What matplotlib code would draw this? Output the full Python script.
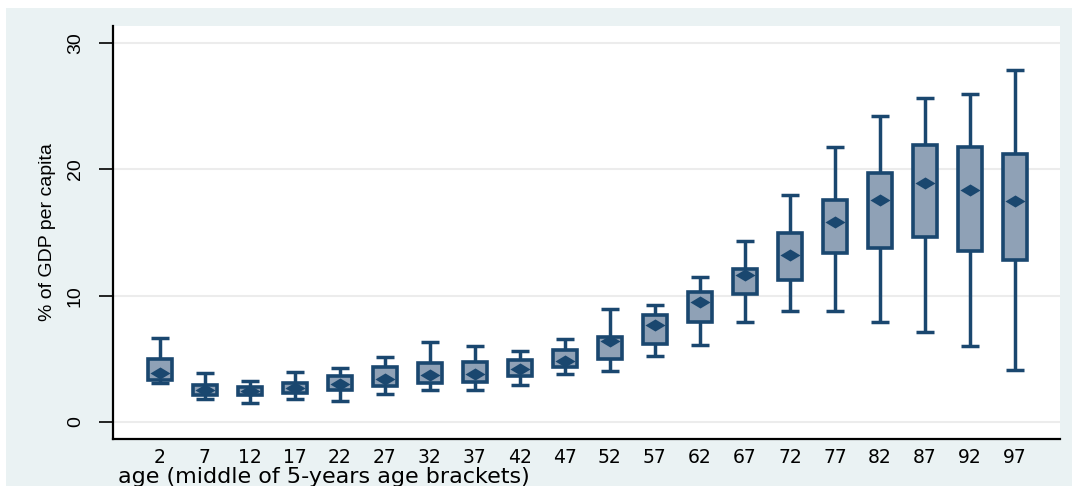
import numpy as np
import matplotlib
matplotlib.use("Agg")
import matplotlib.pyplot as plt
from matplotlib.path import Path
from matplotlib.patches import Rectangle

# age brackets (middle of 5-year bracket)
ages = [2, 7, 12, 17, 22, 27, 32, 37, 42, 47, 52, 57, 62, 67, 72, 77, 82, 87, 92, 97]

# whisker low / box bottom / mean / box top / whisker high (% of GDP per capita)
whisk_lo = [3.06, 1.85, 1.48, 1.85, 1.69, 2.19, 2.5, 2.5, 2.9, 3.8, 4.0, 5.25, 6.07, 7.9, 8.8, 8.8, 7.9, 7.15, 6.0, 4.15]
box_lo = [3.33, 2.1, 2.1, 2.27, 2.53, 2.85, 3.1, 3.17, 3.64, 4.33, 4.96, 6.2, 7.9, 10.1, 11.24, 13.4, 13.8, 14.65, 13.5, 12.8]
means = [3.9, 2.5, 2.43, 2.7, 2.98, 3.4, 3.7, 3.8, 4.2, 4.83, 6.44, 7.68, 9.5, 11.6, 13.2, 15.8, 17.55, 18.9, 18.35, 17.5]
box_hi = [4.96, 2.93, 2.8, 3.06, 3.64, 4.33, 4.65, 4.75, 4.9, 5.7, 6.75, 8.5, 10.3, 12.1, 15.0, 17.55, 19.7, 21.9, 21.75, 21.2]
whisk_hi = [6.67, 3.85, 3.27, 3.96, 4.28, 5.15, 6.3, 6.0, 5.6, 6.55, 8.97, 9.3, 11.5, 14.35, 18.0, 21.75, 24.2, 25.65, 25.95, 27.85]

NAVY = "#1a476f"
FILL = "#8fa1b6"
BG = "#eaf2f3"

xs = np.array(ages)
whisk_lo, box_lo, means, box_hi, whisk_hi = [np.array(v) for v in (whisk_lo, box_lo, means, box_hi, whisk_hi)]

plt.rcParams["font.family"] = ["Liberation Sans", "DejaVu Sans"]

fig = plt.figure(figsize=(10.72, 4.86), dpi=100)
# light outer background (graph region)
fig.patches.append(Rectangle((6 / 1072, 0), 1, 1 - 8 / 486, transform=fig.transFigure,
                             facecolor=BG, edgecolor="none", zorder=-10))
ax = fig.add_axes([113 / 1072, 1 - 438.7 / 486, (1060 - 113) / 1072, (438.7 - 26) / 486])
ax.set_facecolor("white")

ax.vlines(xs, whisk_lo, whisk_hi, color=NAVY, lw=2.5, zorder=2)
ax.hlines(whisk_lo, xs - 1.0, xs + 1.0, color=NAVY, lw=2.5, zorder=2)
ax.hlines(whisk_hi, xs - 1.0, xs + 1.0, color=NAVY, lw=2.5, zorder=2)
ax.bar(xs, box_hi - box_lo, bottom=box_lo, width=2.6, color=FILL, edgecolor=NAVY,
       linewidth=2.6, zorder=3)

# flat diamond for the mean
diamond = Path([(-1, 0), (0, 0.6), (1, 0), (0, -0.6), (-1, 0)],
               [Path.MOVETO, Path.LINETO, Path.LINETO, Path.LINETO, Path.CLOSEPOLY])
ax.scatter(xs, means, marker=diamond, s=210, color=NAVY, zorder=4, linewidths=0)

ax.set_xlim(-3.2, 102)
ax.set_ylim(-1.32, 31.35)
ax.set_yticks([0, 10, 20, 30])
ax.set_xticks(xs)
ax.set_xticklabels([str(a) for a in xs], fontsize=13.5, family=["DejaVu Sans"])
ax.tick_params(axis="x", length=0, pad=7)
ax.tick_params(axis="y", length=10, width=1.2, pad=11, labelsize=14, labelrotation=90)
for lab in ax.get_yticklabels():
    lab.set_va("center")
ax.grid(axis="y", color="#ececec", lw=1.5, zorder=0)
ax.set_axisbelow(True)
for s in ["top", "right"]:
    ax.spines[s].set_visible(False)
for s in ["left", "bottom"]:
    ax.spines[s].set_linewidth(1.6)

ax.set_ylabel("% of GDP per capita", fontsize=14, labelpad=8)
fig.text(118 / 1072, 1 - 483 / 486, "age (middle of 5-years age brackets)", fontsize=16,
         family=["DejaVu Sans"], ha="left", va="baseline")

fig.savefig("out.png", dpi=100)
